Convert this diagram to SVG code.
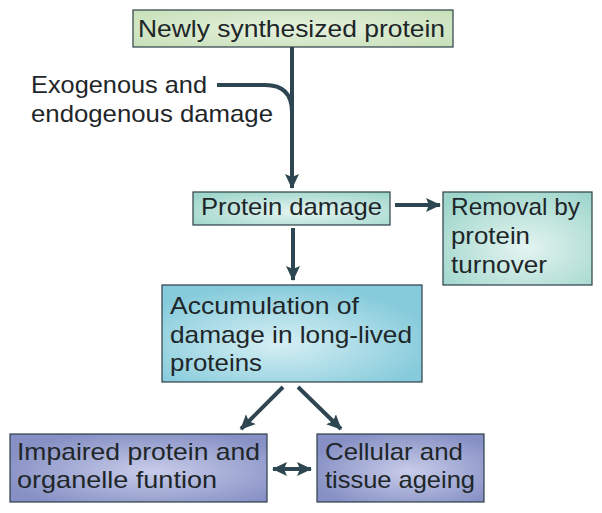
<svg xmlns="http://www.w3.org/2000/svg" width="602" height="513" viewBox="0 0 602 513">
<defs>
<radialGradient id="gGreen" cx="0.5" cy="0.5" r="0.7"><stop offset="0" stop-color="#e6f1dd"/><stop offset="1" stop-color="#c7e0b9"/></radialGradient>
<radialGradient id="gTeal" cx="0.55" cy="0.6" r="0.7"><stop offset="0" stop-color="#e4f4f1"/><stop offset="1" stop-color="#9fd6cb"/></radialGradient>
<radialGradient id="gCyan" cx="0.45" cy="0.6" r="0.6"><stop offset="0" stop-color="#d6eff4"/><stop offset="1" stop-color="#86cbdb"/></radialGradient>
<radialGradient id="gBlue" cx="0.55" cy="0.55" r="0.6"><stop offset="0" stop-color="#c9cdea"/><stop offset="1" stop-color="#8690c4"/></radialGradient>
<marker id="ah" markerUnits="userSpaceOnUse" markerWidth="16" markerHeight="16" viewBox="0 0 16 16" refX="14" refY="8" orient="auto-start-reverse">
<path d="M0,1 L15,8 L0,15 L3,8 Z" fill="#2e4651"/>
</marker>
<style>
.box{stroke:#2c3e47;stroke-width:1.2}
.t{font-family:"Liberation Sans",Arial,sans-serif;font-size:24px;fill:#1e2629}
.c{fill:none;stroke:#2e4651;stroke-width:4}
</style>
</defs>
<rect width="602" height="513" fill="#ffffff"/>
<g id="connectors">
<path class="c" d="M292,47 V188" marker-end="url(#ah)"/>
<path class="c" d="M217,85 H265 Q292,85 292,112"/>
<path class="c" d="M395,205 H440" marker-end="url(#ah)"/>
<path class="c" d="M293,228 V280" marker-end="url(#ah)"/>
<path class="c" d="M283,387 L241,429" marker-end="url(#ah)"/>
<path class="c" d="M298,387 L341,429" marker-end="url(#ah)"/>
<path class="c" d="M273,469 H311" marker-start="url(#ah)" marker-end="url(#ah)"/>
</g>
<g id="newly">
<rect class="box" x="133" y="10" width="320" height="37" fill="url(#gGreen)"/>
<text class="t" x="138" y="37" textLength="307" lengthAdjust="spacingAndGlyphs">Newly synthesized protein</text>
</g>
<g id="damage-label">
<text class="t" x="31" y="93" textLength="176" lengthAdjust="spacingAndGlyphs">Exogenous and</text>
<text class="t" x="31" y="122" textLength="242" lengthAdjust="spacingAndGlyphs">endogenous damage</text>
</g>
<g id="protein-damage">
<rect class="box" x="193" y="192" width="197" height="33" fill="url(#gTeal)"/>
<text class="t" x="201" y="215" textLength="181" lengthAdjust="spacingAndGlyphs">Protein damage</text>
</g>
<g id="removal">
<rect class="box" x="443" y="192" width="149" height="93" fill="url(#gTeal)"/>
<text class="t" x="451" y="215" textLength="129" lengthAdjust="spacingAndGlyphs">Removal by</text>
<text class="t" x="451" y="244" textLength="79" lengthAdjust="spacingAndGlyphs">protein</text>
<text class="t" x="451" y="273" textLength="96" lengthAdjust="spacingAndGlyphs">turnover</text>
</g>
<g id="accumulation">
<rect class="box" x="162" y="285" width="260" height="97" fill="url(#gCyan)"/>
<text class="t" x="170" y="314" textLength="189" lengthAdjust="spacingAndGlyphs">Accumulation of</text>
<text class="t" x="170" y="343" textLength="242" lengthAdjust="spacingAndGlyphs">damage in long-lived</text>
<text class="t" x="170" y="371" textLength="92" lengthAdjust="spacingAndGlyphs">proteins</text>
</g>
<g id="impaired">
<rect class="box" x="10" y="434" width="257" height="68" fill="url(#gBlue)"/>
<text class="t" x="17" y="460" textLength="243" lengthAdjust="spacingAndGlyphs">Impaired protein and</text>
<text class="t" x="17" y="488" textLength="200" lengthAdjust="spacingAndGlyphs">organelle funtion</text>
</g>
<g id="ageing">
<rect class="box" x="317" y="434" width="167" height="68" fill="url(#gBlue)"/>
<text class="t" x="325" y="460" textLength="138" lengthAdjust="spacingAndGlyphs">Cellular and</text>
<text class="t" x="325" y="488" textLength="150" lengthAdjust="spacingAndGlyphs">tissue ageing</text>
</g>
</svg>
